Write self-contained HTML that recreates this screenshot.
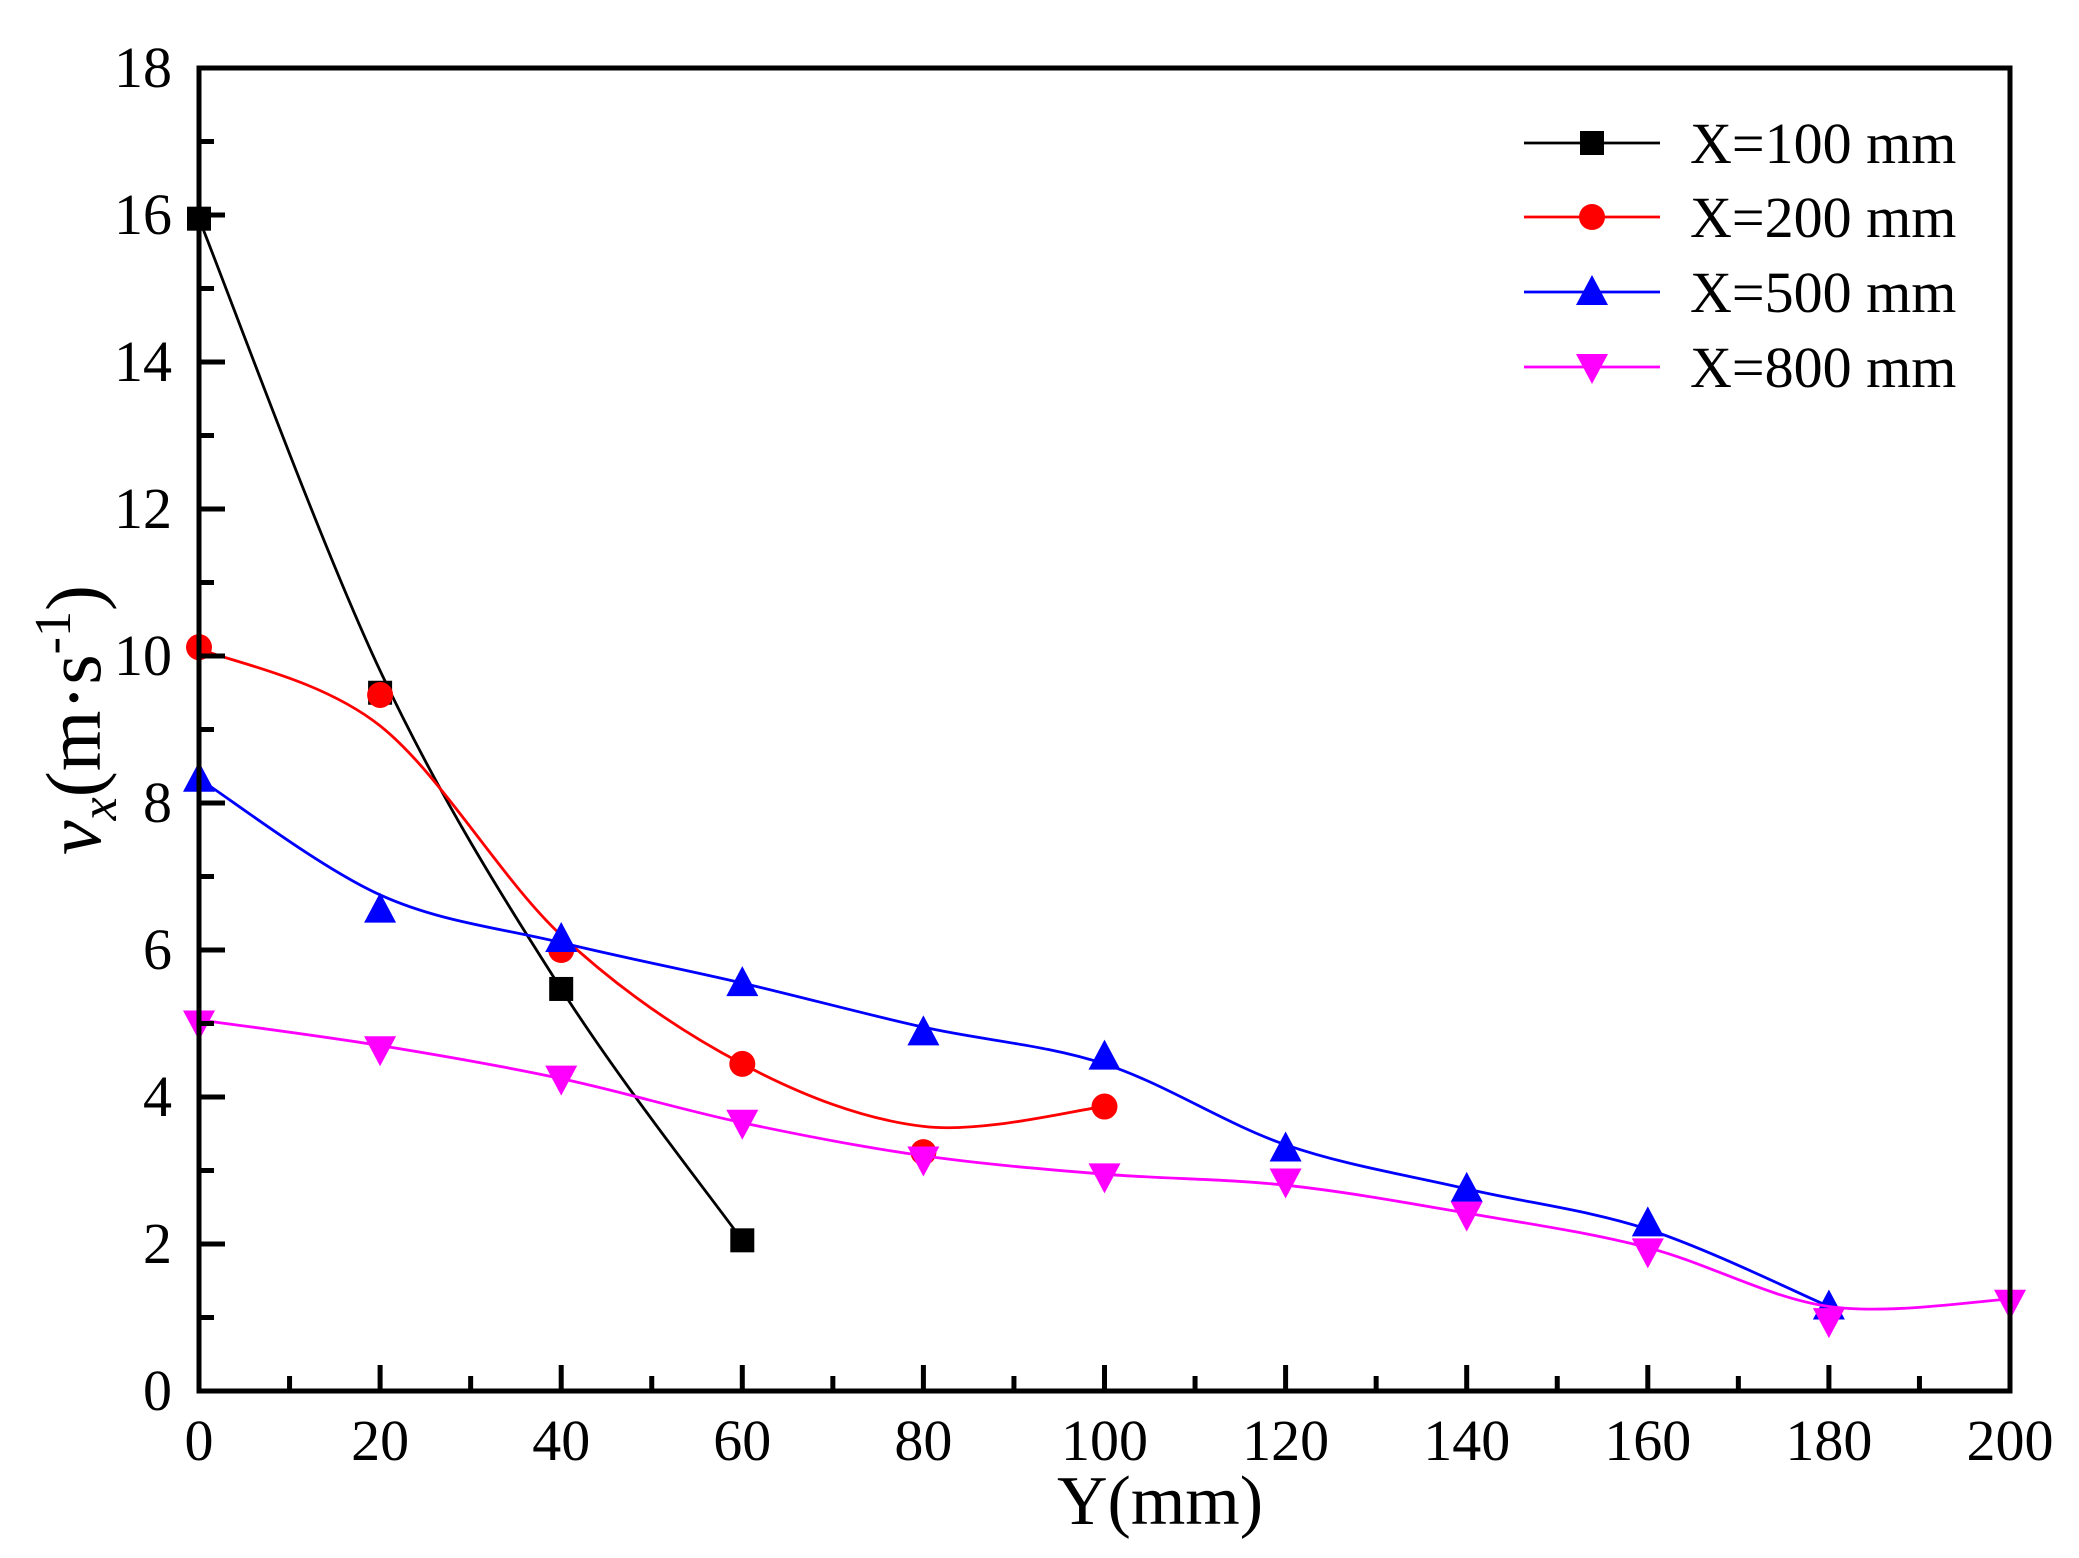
<!DOCTYPE html>
<html><head><meta charset="utf-8"><style>
html,body{margin:0;padding:0;background:#fff;}
svg{display:block;}
text{font-family:"Liberation Serif",serif;fill:#000;}
</style></head><body>
<svg id="s" width="2079" height="1558" viewBox="0 0 2079 1558" xmlns="http://www.w3.org/2000/svg">
<rect width="2079" height="1558" fill="#fff"/>
<g id="curves"></g>
<g id="axes"></g>
<g id="ticks"></g>
<g font-size="58" text-anchor="end" id="ylab"></g>
<g font-size="58" text-anchor="middle" id="xlab"></g>
<text x="1160" y="1524" font-size="70" text-anchor="middle">Y(mm)</text>
<text transform="translate(100,720) rotate(-90)" font-size="78" text-anchor="middle"><tspan font-style="italic">v</tspan><tspan font-style="italic" font-size="52" dy="16">x</tspan><tspan dy="-16">(m·s</tspan><tspan font-size="52" dy="-30">-1</tspan><tspan dy="30">)</tspan></text>
<g id="legend"></g>
</svg>
<script>
var L=199,R=2010,T=68,B=1391;
function X(v){return L+(R-L)*v/200;}
function Y(v){return B-(B-T)*v/18;}
var ns="http://www.w3.org/2000/svg";
function el(p,n,a){var e=document.createElementNS(ns,n);for(var k in a)e.setAttribute(k,a[k]);document.getElementById(p).appendChild(e);return e;}
var series=[
{c:"#000",m:"sq",d:[[0,15.95],[20,9.8],[40,5.47],[60,2.05]],p:[[0,15.95],[20,9.5],[40,5.47],[60,2.05]]},
{c:"#ff0000",m:"ci",d:[[0,10.1],[20,9.05],[40,6.2],[60,4.45],[80,3.6],[100,3.87]],p:[[0,10.12],[20,9.47],[40,6.0],[60,4.45],[80,3.25],[100,3.87]]},
{c:"#0000ff",m:"up",d:[[0,8.33],[20,6.75],[40,6.1],[60,5.55],[80,4.95],[100,4.45],[120,3.35],[140,2.75],[160,2.2],[180,1.15]],p:[[0,8.33],[20,6.55],[40,6.15],[60,5.55],[80,4.88],[100,4.55],[120,3.3],[140,2.75],[160,2.28],[180,1.15]]},
{c:"#ff00ff",m:"dn",d:[[0,5.05],[20,4.7],[40,4.25],[60,3.65],[80,3.2],[100,2.95],[120,2.8],[140,2.42],[160,1.95],[180,1.15],[200,1.25]],p:[[0,5.0],[20,4.65],[40,4.25],[60,3.65],[80,3.15],[100,2.92],[120,2.85],[140,2.4],[160,1.9],[180,0.95],[200,1.2]]}
];
function path(d){var P=d.map(function(q){return [X(q[0]),Y(q[1])];});var s="M"+P[0][0]+","+P[0][1];
for(var i=0;i<P.length-1;i++){var p0=P[i-1]||P[i],p1=P[i],p2=P[i+1],p3=P[i+2]||P[i+1];
s+=" C"+(p1[0]+(p2[0]-p0[0])/6)+","+(p1[1]+(p2[1]-p0[1])/6)+" "+(p2[0]-(p3[0]-p1[0])/6)+","+(p2[1]-(p3[1]-p1[1])/6)+" "+p2[0]+","+p2[1];}
return s;}
function marker(g,m,x,y,c){
if(m=="sq")el(g,"rect",{x:x-12,y:y-12,width:24,height:24,fill:c});
else if(m=="ci")el(g,"circle",{cx:x,cy:y,r:13,fill:c});
else if(m=="up")el(g,"polygon",{points:(x)+","+(y-17)+" "+(x+16)+","+(y+13)+" "+(x-16)+","+(y+13),fill:c});
else el(g,"polygon",{points:(x)+","+(y+17)+" "+(x+16)+","+(y-13)+" "+(x-16)+","+(y-13),fill:c});}
series.forEach(function(s){
el("curves","path",{d:path(s.d),fill:"none",stroke:s.c,"stroke-width":2.8});
(s.p||s.d).forEach(function(q){marker("curves",s.m,X(q[0]),Y(q[1]),s.c);});});
el("axes","rect",{x:L,y:T,width:R-L,height:B-T,fill:"none",stroke:"#000","stroke-width":5});
for(var v=0;v<=200;v+=10){var x=X(v);var len=v%20==0?26:15;
el("ticks","line",{x1:x,y1:B,x2:x,y2:B-len,stroke:"#000","stroke-width":5});
if(v%20==0){var t=el("xlab","text",{x:x,y:1460});t.textContent=v;}}
for(var v=0;v<=18;v+=1){var y=Y(v);var len=v%2==0?26:15;
el("ticks","line",{x1:L,y1:y,x2:L+len,y2:y,stroke:"#000","stroke-width":5});
if(v%2==0){var t=el("ylab","text",{x:172,y:y+19});t.textContent=v;}}
var names=["X=100 mm","X=200 mm","X=500 mm","X=800 mm"],ly=[143,217,292,367];
series.forEach(function(s,i){
el("legend","line",{x1:1524,y1:ly[i],x2:1660,y2:ly[i],stroke:s.c,"stroke-width":2.8});
marker("legend",s.m,1592,ly[i],s.c);
var t=el("legend","text",{x:1690,y:ly[i]+20,"font-size":58});t.textContent=names[i];});
</script>
</body></html>
